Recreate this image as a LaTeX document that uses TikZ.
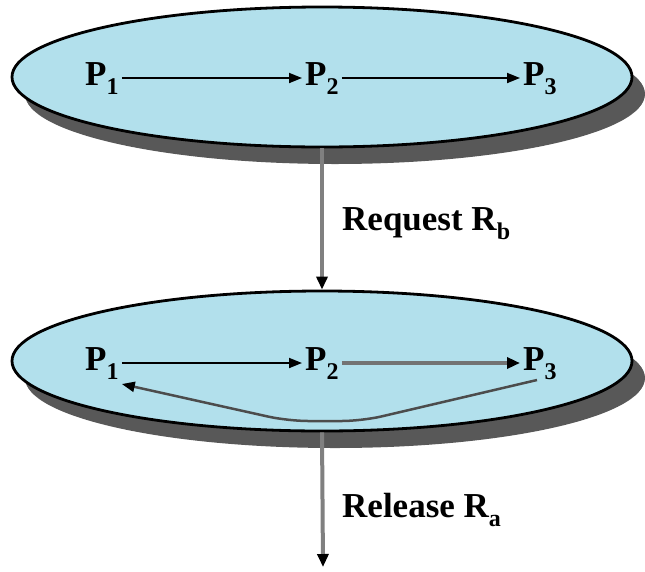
\documentclass[tikz,border=0pt]{standalone}
\usepackage{fontspec}
\setmainfont{Liberation Serif}
\usetikzlibrary{shapes.geometric,shadows,arrows.meta}
\definecolor{celeste}{RGB}{178,224,236}
\definecolor{sombra}{RGB}{88,88,88}
\newcommand{\indice}[1]{\raisebox{-0.28em}{\fontsize{24}{26}\selectfont #1}}
\begin{document}
\begin{tikzpicture}[
  x=1pt, y=-1pt,
  conjunto/.style={draw=black, line width=2.8pt, ellipse, fill=celeste,
    minimum width=620pt, minimum height=140pt,
    drop shadow={shadow xshift=13pt, shadow yshift=-17pt, fill=sombra, opacity=1}},
  proc/.style={anchor=base west, inner sep=3pt, font=\bfseries\fontsize{35}{40}\selectfont},
  etiqueta/.style={anchor=base west, inner sep=0pt, font=\bfseries\fontsize{35}{40}\selectfont},
  flecha/.style={line width=1.8pt, -{Triangle[length=13pt, width=10pt]}},
  flechagris/.style={draw=black!50, line width=4pt, -{Triangle[length=13pt, width=11pt, color=black]}}
]
\useasboundingbox (0,0) rectangle (645,571);
% los dos estados
\node[conjunto] (conj1) at (322,77) {};
\node[conjunto] (conj2) at (322,361) {};
% procesos, estado superior
\node[proc] (p1a) at (82,85) {P\indice{1}};
\node[proc] (p2a) at (302,85) {P\indice{2}};
\node[proc] (p3a) at (520,85) {P\indice{3}};
\draw[flecha] ([yshift=7pt]p1a.base east) -- ([yshift=7pt]p2a.base west);
\draw[flecha] ([yshift=7pt]p2a.base east) -- ([yshift=7pt]p3a.base west);
% procesos, estado inferior
\node[proc] (p1b) at (82,370) {P\indice{1}};
\node[proc] (p2b) at (302,370) {P\indice{2}};
\node[proc] (p3b) at (520,370) {P\indice{3}};
\draw[flecha] ([yshift=7pt]p1b.base east) -- ([yshift=7pt]p2b.base west);
\draw[flecha, draw=black!55, line width=4.5pt, -{Triangle[length=13pt, width=11pt, color=black]}]
  ([yshift=7pt]p2b.base east) -- ([yshift=7pt]p3b.base west);
\coordinate (fondo1) at (362,421);
\coordinate (fondo2) at (288,421);
\draw[flecha, draw=black!70, line width=2.5pt, rounded corners=20pt,
  -{Triangle[length=13pt, width=10pt, color=black]}]
  ([shift={(17pt,-10pt)}]p3b.base west) -- (fondo1) -- (fondo2) -- ([shift={(0pt,-14pt)}]p1b.base east);
% peticiones
\coordinate (fin) at (323,567);
\draw[flechagris] (conj1.south) -- (conj2.north);
\draw[flechagris] (conj2.south) -- (fin);
\node[etiqueta] (req) at (342,230) {Request R\indice{b}};
\node[etiqueta] (rel) at (342,517) {Release R\indice{a}};
\end{tikzpicture}
\end{document}
